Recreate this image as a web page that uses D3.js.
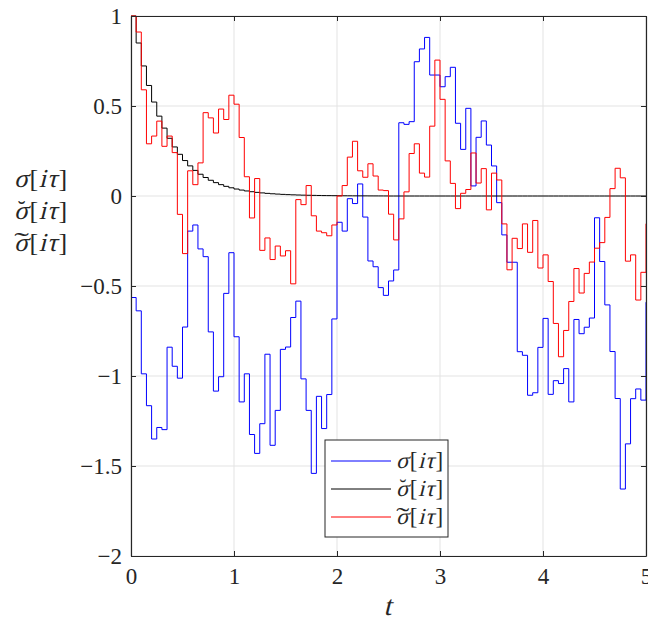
<!DOCTYPE html>
<html>
<head>
<meta charset="utf-8">
<script src="https://cdn.jsdelivr.net/npm/d3@7"></script>
<style>
  html, body { margin: 0; padding: 0; background: #fff; }
</style>
</head>
<body>
<div id="chart"></div>
<script>
// step size of the sampled signals (t = i * tau)
const TAU = 0.05;
const FONT = 'Liberation Serif';

const sigma = [
  -0.564, -0.638, -0.988, -1.165, -1.350, -1.286, -1.298, -0.840, -0.946, -1.012,
  -0.728, -0.195, -0.161, -0.294, -0.337, -0.755, -1.084, -1.004, -0.541, -0.315,
  -0.782, -1.144, -0.988, -1.325, -1.430, -1.265, -0.879, -1.385, -1.191, -0.852,
  -0.839, -0.675, -0.584, -1.016, -1.191, -1.541, -1.113, -1.292, -1.103, -0.683,
  -0.146, -0.195, -0.015, -0.042, 0.067, -0.117, -0.361, -0.393, -0.509, -0.552,
  -0.472, -0.411, 0.407, 0.398, 0.413, 0.746, 0.817, 0.881, 0.672, 0.672,
  0.607, 0.663, 0.715, 0.404, 0.259, 0.487, 0.056, 0.326, 0.417, 0.283,
  0.167, -0.037, -0.216, -0.368, -0.368, -0.865, -0.885, -1.107, -1.093, -0.841,
  -0.680, -1.102, -1.026, -1.042, -0.959, -1.144, -0.686, -0.765, -0.729, -0.678,
  -0.121, -0.364, -0.605, -0.864, -1.125, -1.628, -1.377, -1.126, -1.072, -1.134,
  -0.590
];

const sigmaBreve = [
  1.0, 0.85, 0.7225, 0.6141, 0.5220, 0.4437, 0.3771, 0.3206, 0.2725, 0.2316,
  0.1969, 0.1673, 0.1422, 0.1209, 0.1028, 0.0874, 0.0743, 0.0631, 0.0536, 0.0456,
  0.0388, 0.0329, 0.0280, 0.0238, 0.0202, 0.0172, 0.0146, 0.0124, 0.0106, 0.0090,
  0.0076, 0.0065, 0.0055, 0.0047, 0.0040, 0.0034, 0.0029, 0.0024, 0.0021, 0.0018,
  0.0015, 0.0013, 0.0011, 0.0009, 0.0008, 0.0007, 0.0006, 0.0005, 0.0004, 0.0003,
  0, 0, 0, 0, 0, 0, 0, 0, 0, 0,
  0, 0, 0, 0, 0, 0, 0, 0, 0, 0,
  0, 0, 0, 0, 0, 0, 0, 0, 0, 0,
  0, 0, 0, 0, 0, 0, 0, 0, 0, 0,
  0, 0, 0, 0, 0, 0, 0, 0, 0, 0,
  0
];

const sigmaTilde = [
  1.0, 0.911, 0.590, 0.290, 0.333, 0.416, 0.276, 0.333, 0.241, -0.102,
  -0.320, 0.140, 0.063, 0.184, 0.463, 0.434, 0.350, 0.483, 0.425, 0.560,
  0.510, 0.325, 0.107, -0.122, 0.097, -0.302, -0.233, -0.353, -0.278, -0.333,
  -0.304, -0.488, -0.020, -0.048, 0.058, -0.110, -0.195, -0.204, -0.221, -0.161,
  0.000, 0.058, 0.216, 0.304, 0.140, 0.104, 0.179, 0.111, 0.033, 0.030,
  -0.101, -0.244, -0.127, 0.023, 0.236, 0.290, 0.127, 0.105, 0.388, 0.755,
  0.537, 0.195, 0.070, -0.070, 0.015, 0.036, 0.239, 0.072, 0.152, -0.077,
  0.127, 0.089, -0.155, -0.410, -0.235, -0.292, -0.155, -0.313, -0.136, -0.400,
  -0.327, -0.475, -0.708, -0.893, -0.747, -0.586, -0.403, -0.539, -0.430, -0.367,
  -0.290, -0.259, -0.119, 0.041, 0.154, 0.101, -0.362, -0.327, -0.578, -0.424,
  -0.154
];

const xTicks = [0, 1, 2, 3, 4, 5];
const xTickLabels = ['0', '1', '2', '3', '4', '5'];
const yTicks = [-2, -1.5, -1, -0.5, 0, 0.5, 1];
const yTickLabels = ['\u22122', '\u22121.5', '\u22121', '\u22120.5', '0', '0.5', '1'];

// accent drawn over the sigma: none, breve, wide tilde
const series = [
  { values: sigma,      color: '#0000ff', accent: null },
  { values: sigmaBreve, color: '#000000', accent: 'breve' },
  { values: sigmaTilde, color: '#ff0000', accent: 'tilde' },
];

const W = 648, H = 622;
const M = { left: 131, right: 2, top: 16, bottom: 66 };
const innerW = W - M.left - M.right;
const innerH = H - M.top - M.bottom;
const INK = '#262626';

const svg = d3.select('#chart').append('svg')
  .attr('width', W).attr('height', H);

const x = d3.scaleLinear().domain([0, 5]).range([M.left, M.left + innerW]);
const y = d3.scaleLinear().domain([-2, 1]).range([M.top + innerH, M.top]);

// ── grid ──────────────────────────────────────────────────────────────
const grid = svg.append('g').attr('stroke', '#e3e3e3').attr('stroke-width', 1);
xTicks.forEach(t => grid.append('line')
  .attr('x1', x(t)).attr('x2', x(t)).attr('y1', y(-2)).attr('y2', y(1)));
yTicks.forEach(t => grid.append('line')
  .attr('x1', x(0)).attr('x2', x(5)).attr('y1', y(t)).attr('y2', y(t)));

// ── lines ─────────────────────────────────────────────────────────────
const line = d3.line()
  .x((d, i) => x(i * TAU))
  .y(d => y(d))
  .curve(d3.curveStepAfter);

series.forEach(s => {
  svg.append('path')
    .datum(s.values)
    .attr('fill', 'none')
    .attr('stroke', s.color)
    .attr('stroke-width', 1)
    .attr('d', line);
});

// ── axes (box with inward ticks on all sides) ────────────────────────
const tickLen = 5;
const fmtX = d => xTickLabels[xTicks.indexOf(d)];
const fmtY = d => yTickLabels[yTicks.indexOf(d)];

const axB = svg.append('g').attr('transform', `translate(0,${y(-2)})`)
  .call(d3.axisBottom(x).tickValues(xTicks).tickSizeInner(-tickLen).tickSizeOuter(0).tickPadding(12).tickFormat(fmtX));
const axT = svg.append('g').attr('transform', `translate(0,${y(1)})`)
  .call(d3.axisTop(x).tickValues(xTicks).tickSizeInner(-tickLen).tickSizeOuter(0).tickFormat(''));
const axL = svg.append('g').attr('transform', `translate(${x(0)},0)`)
  .call(d3.axisLeft(y).tickValues(yTicks).tickSizeInner(-tickLen).tickSizeOuter(0).tickPadding(9).tickFormat(fmtY));
const axR = svg.append('g').attr('transform', `translate(${x(5)},0)`)
  .call(d3.axisRight(y).tickValues(yTicks).tickSizeInner(-tickLen).tickSizeOuter(0).tickFormat(''));

[axB, axT, axL, axR].forEach(a => {
  a.attr('font-family', FONT);
  a.select('.domain').attr('stroke', INK).attr('stroke-width', 1.2);
  a.selectAll('.tick line').attr('stroke', INK).attr('stroke-width', 1);
  a.selectAll('.tick text').attr('fill', INK).attr('font-size', 23);
});
axB.selectAll('.tick text').attr('dy', '0.71em');

// ── math text helpers (italic faces are missing, so slant by hand) ───
function glyph(parent, str, gx, gy, size, italic) {
  const t = parent.append('text')
    .attr('font-family', FONT).attr('font-size', size).attr('fill', INK)
    .attr('transform', `translate(${gx},${gy})` + (italic ? ' skewX(-14)' : ''))
    .text(str);
  return t.node().getComputedTextLength();
}

// σ[iτ] with optional accent over the σ
function mathLabel(parent, x0, y0, size, accent) {
  const g = parent.append('g');
  let cx = x0;
  const sw = glyph(g, 'σ', cx, y0, size, true);
  if (accent === 'breve') {
    g.append('text')
      .attr('font-family', FONT).attr('font-size', size * 0.9).attr('fill', INK)
      .attr('text-anchor', 'middle')
      .attr('transform', `translate(${cx + sw * 0.55},${y0 - size * 0.08})`)
      .text('\u02D8');
  } else if (accent === 'tilde') {
    g.append('text')
      .attr('font-family', FONT).attr('font-size', size).attr('fill', INK)
      .attr('text-anchor', 'middle')
      .attr('transform', `translate(${cx + sw * 0.55},${y0 - size * 0.02}) scale(1.7,1)`)
      .text('\u02DC');
  }
  cx += sw + size * 0.06;
  cx += glyph(g, '[', cx, y0, size, false) + size * 0.02;
  cx += glyph(g, 'i', cx, y0, size, true) + size * 0.03;
  cx += glyph(g, 'τ', cx, y0, size, true) + size * 0.05;
  glyph(g, ']', cx, y0, size, false);
}

// x label
glyph(svg, 't', x(2.5) - 5, 615, 28, true);

// y label: three stacked lines, horizontal
series.forEach((s, i) => mathLabel(svg, 14, 187 + i * 32, 26, s.accent));

// ── legend ────────────────────────────────────────────────────────────
const lg = svg.append('g').attr('transform', 'translate(325,440)');
lg.append('rect')
  .attr('width', 123).attr('height', 97)
  .attr('fill', '#fff').attr('stroke', INK).attr('stroke-width', 1);
series.forEach((s, i) => {
  const ry = 21 + i * 28;
  lg.append('line')
    .attr('x1', 6).attr('x2', 66).attr('y1', ry).attr('y2', ry)
    .attr('stroke', s.color).attr('stroke-width', 1);
  mathLabel(lg, 71, ry + 7, 23, s.accent);
});
</script>
</body>
</html>
